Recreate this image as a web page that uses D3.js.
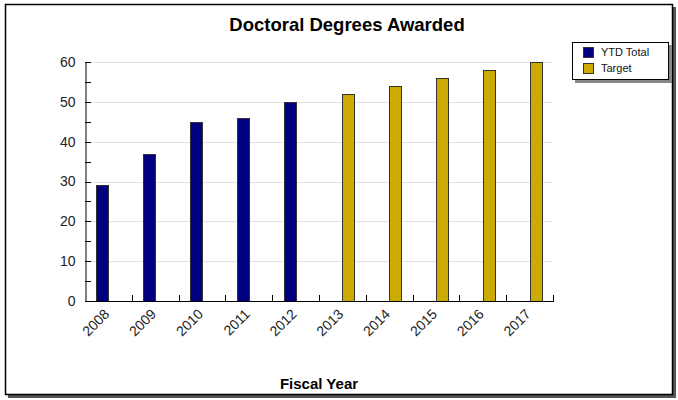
<!DOCTYPE html>
<html><head><meta charset="utf-8">
<script src="https://cdn.jsdelivr.net/npm/d3@7"></script>
<style>body{margin:0;background:#fff;}svg{display:block;font-family:"Liberation Sans",Arial,sans-serif;}</style>
</head><body><svg id="c" width="678" height="400"></svg>
<script>
const years = ["2008","2009","2010","2011","2012","2013","2014","2015","2016","2017"];
const seriesNames = ["YTD Total","Target"];
const ytdTotal = [29,37,45,46,50,null,null,null,null,null];
const target = [null,null,null,null,null,52,54,56,58,60];
const colors = ["#000080","#ccaa00"];
const yTicks = [0,10,20,30,40,50,60];

(function(){
const svg = d3.select("#c");
// frame with shadow
svg.append("rect").attr("x",8).attr("y",7).attr("width",668).attr("height",391).attr("fill","#555");
svg.append("rect").attr("x",5.5).attr("y",4.5).attr("width",667).attr("height",390).attr("fill","#fff").attr("stroke","#000").attr("stroke-width",1.5);

const pl=85, pr=553, pt=62, pb=301;
const x0 = d3.scaleBand().domain(years).range([pl,pr]).paddingInner(0.486).paddingOuter(0.243);
const x1 = d3.scaleBand().domain(seriesNames).range([0,x0.bandwidth()]);
const y = d3.scaleLinear().domain([0,60]).range([pb,pt]);

// gridlines
svg.append("g").selectAll("line").data(yTicks.filter(d=>d>0)).join("line")
  .attr("x1",pl).attr("x2",pr).attr("y1",d=>Math.round(y(d))+0.5).attr("y2",d=>Math.round(y(d))+0.5)
  .attr("stroke","#e2e2e2");

// bars
const data = [];
years.forEach((yr,i)=>{
  if(ytdTotal[i]!=null) data.push({yr,s:0,v:ytdTotal[i]});
  if(target[i]!=null) data.push({yr,s:1,v:target[i]});
});
svg.append("g").selectAll("rect").data(data).join("rect")
  .attr("x",d=>Math.round(x0(d.yr)+x1(seriesNames[d.s]))+0.5)
  .attr("y",d=>Math.round(y(d.v))+0.5)
  .attr("width",Math.round(x1.bandwidth()))
  .attr("height",d=>Math.round(y(0))-Math.round(y(d.v)))
  .attr("fill",d=>colors[d.s]).attr("stroke","#333").attr("stroke-width",1);

// y axis
const yAxis = d3.axisLeft(y).tickValues(yTicks).tickSize(0).tickPadding(10).tickFormat(d3.format("d"));
const gy = svg.append("g").attr("transform",`translate(${pl+0.5},0)`).call(yAxis);
gy.select(".domain").attr("stroke","#000");
gy.selectAll("text").attr("font-size",14).attr("fill","#222");
// minor inside ticks
svg.append("g").selectAll("line").data(d3.range(0,61,5)).join("line")
  .attr("x1",pl).attr("x2",pl+6).attr("y1",d=>Math.round(y(d))+0.5).attr("y2",d=>Math.round(y(d))+0.5)
  .attr("stroke","#000");

// x axis
svg.append("line").attr("x1",pl).attr("x2",pr+1).attr("y1",pb+0.5).attr("y2",pb+0.5).attr("stroke","#000");
const bounds = years.map(yr=>x0(yr)-x0.step()*x0.paddingInner()/2).concat([pr]);
svg.append("g").selectAll("line").data(bounds.slice(1)).join("line")
  .attr("x1",d=>Math.round(d)+0.5).attr("x2",d=>Math.round(d)+0.5).attr("y1",pb).attr("y2",pb-6)
  .attr("stroke","#000");
svg.append("g").selectAll("text").data(years).join("text")
  .attr("transform",d=>`translate(${x0(d)+x0.bandwidth()/2-5},${pb+7}) rotate(-45)`)
  .attr("text-anchor","end").attr("dy","0.7em").attr("font-size",14).attr("fill","#222").text(d=>d);

// title
svg.append("text").attr("x",347).attr("y",31).attr("text-anchor","middle").attr("font-size",18.5).attr("font-weight","bold").text("Doctoral Degrees Awarded");
svg.append("text").attr("x",319).attr("y",389).attr("text-anchor","middle").attr("font-size",15).attr("font-weight","bold").text("Fiscal Year");

// legend
const lg = svg.append("g");
lg.append("rect").attr("x",575).attr("y",45).attr("width",97).attr("height",38).attr("fill","#888");
lg.append("rect").attr("x",572.5).attr("y",42.5).attr("width",96).attr("height",37).attr("fill","#fff").attr("stroke","#000");
seriesNames.forEach((s,i)=>{
  lg.append("rect").attr("x",583.5).attr("y",47.5+i*16).attr("width",10).attr("height",10).attr("fill",colors[i]).attr("stroke","#333");
  lg.append("text").attr("x",601).attr("y",56+i*16).attr("font-size",11).attr("fill","#111").text(s);
});
})();
</script></body></html>
